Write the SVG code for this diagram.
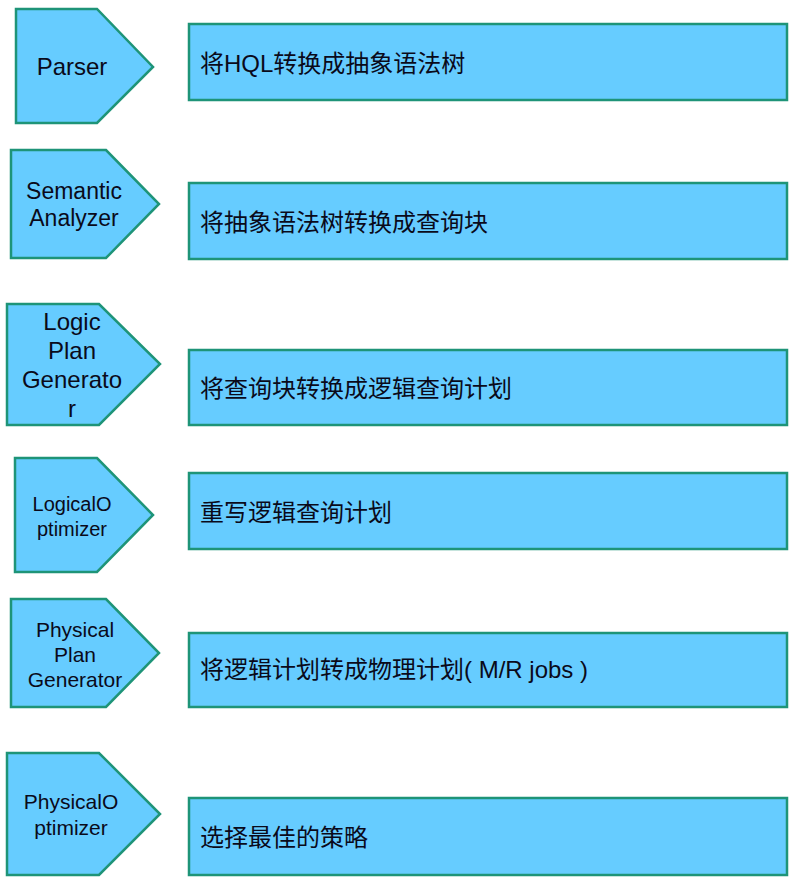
<svg xmlns="http://www.w3.org/2000/svg" width="796" height="883" viewBox="0 0 796 883">
<style>
.shape{fill:#66CCFF;stroke:#1E9478;stroke-width:2.5}
.lbl{font-family:"Liberation Sans",Arial,sans-serif;fill:#0a0a1a;text-anchor:middle}
.desc{font-family:"Liberation Sans","Noto Sans CJK SC",sans-serif;font-size:24px;fill:#0a0a1a}
</style>
<rect width="796" height="883" fill="#ffffff"/>
<g id="parser">
<polygon class="shape" points="16,9 97,9 153,67 97,123 16,123"/>
<text class="lbl" x="72" y="75" font-size="24">Parser</text>
</g>
<g id="parser-desc">
<rect class="shape" x="189" y="24" width="598" height="76"/>
<text class="desc" x="200" y="72">将HQL转换成抽象语法树</text>
</g>
<g id="semantic">
<polygon class="shape" points="11,150 106,150 159,204 106,258 11,258"/>
<text class="lbl" font-size="23"><tspan x="74" y="199">Semantic</tspan><tspan x="74" y="226">Analyzer</tspan></text>
</g>
<g id="semantic-desc">
<rect class="shape" x="189" y="183" width="598" height="76"/>
<text class="desc" x="200" y="231">将抽象语法树转换成查询块</text>
</g>
<g id="logicplan">
<polygon class="shape" points="7,304 99,304 160,364 99,425 7,425"/>
<text class="lbl" font-size="24"><tspan x="72" y="330">Logic</tspan><tspan x="72" y="359">Plan</tspan><tspan x="72" y="388">Generato</tspan><tspan x="72" y="417">r</tspan></text>
</g>
<g id="logicplan-desc">
<rect class="shape" x="189" y="350" width="598" height="75"/>
<text class="desc" x="200" y="397">将查询块转换成逻辑查询计划</text>
</g>
<g id="logicalopt">
<polygon class="shape" points="15,458 97,458 153,515 97,572 15,572"/>
<text class="lbl" font-size="20"><tspan x="72" y="511">LogicalO</tspan><tspan x="72" y="536">ptimizer</tspan></text>
</g>
<g id="logicalopt-desc">
<rect class="shape" x="189" y="473" width="598" height="76"/>
<text class="desc" x="200" y="521">重写逻辑查询计划</text>
</g>
<g id="physplan">
<polygon class="shape" points="11,599 106,599 159,653 106,707 11,707"/>
<text class="lbl" font-size="21"><tspan x="75" y="637">Physical</tspan><tspan x="75" y="662">Plan</tspan><tspan x="75" y="687">Generator</tspan></text>
</g>
<g id="physplan-desc">
<rect class="shape" x="189" y="633" width="598" height="74"/>
<text class="desc" x="200" y="678">将逻辑计划转成物理计划( M/R jobs )</text>
</g>
<g id="physopt">
<polygon class="shape" points="7,753 99,753 160,814 99,875 7,875"/>
<text class="lbl" font-size="21"><tspan x="71" y="809">PhysicalO</tspan><tspan x="71" y="835">ptimizer</tspan></text>
</g>
<g id="physopt-desc">
<rect class="shape" x="189" y="798" width="598" height="77"/>
<text class="desc" x="200" y="846">选择最佳的策略</text>
</g>
<g id="connectors"></g>
</svg>
